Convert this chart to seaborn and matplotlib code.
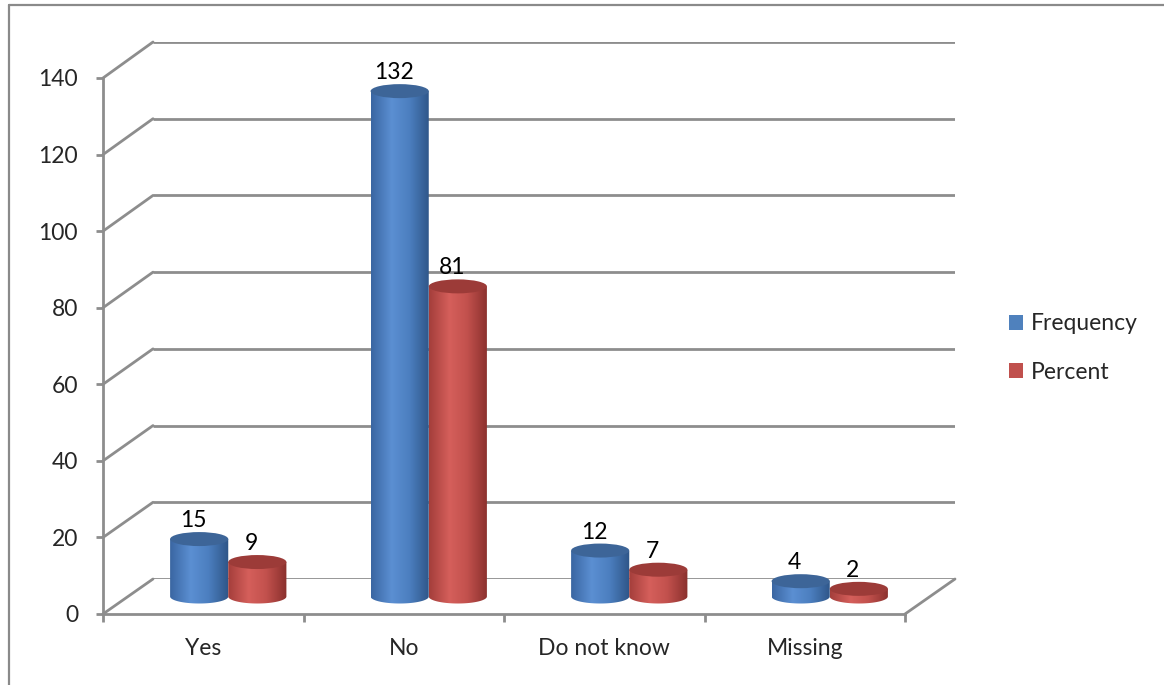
import numpy as np
import pandas as pd
import matplotlib
matplotlib.use("Agg")
import matplotlib.pyplot as plt
import matplotlib.transforms as mtransforms
from matplotlib.patches import Polygon, Ellipse, Patch, ConnectionPatch
from matplotlib.lines import Line2D
from matplotlib.colors import to_rgb
import seaborn as sns

# ---- data ----
categories = ["Yes", "No", "Do not know", "Missing"]
frequency = [15, 132, 12, 4]
percent = [9, 81, 7, 2]
series_names = ["Frequency", "Percent"]
y_ticks = [0, 20, 40, 60, 80, 100, 120, 140]

df = pd.DataFrame({
    "category": categories * 2,
    "value": frequency + percent,
    "series": [series_names[0]] * len(categories) + [series_names[1]] * len(categories),
})

# ---- style ----
sns.set_style("white")
plt.rcParams["font.family"] = ["Lato", "DejaVu Sans"]
FS = 16.5
GRID = "#8d8d8d"
LW = 2.0

base_colors = {"Frequency": "#4f81bd", "Percent": "#c0504d"}
gradients = {
    "Frequency": [(0.0, "#3a66a2"), (0.35, "#5b8fd2"), (0.65, "#4c7fc0"), (1.0, "#2e5587")],
    "Percent": [(0.0, "#a43e3b"), (0.35, "#d55f5b"), (0.65, "#c2514d"), (1.0, "#8a302d")],
}
caps = {"Frequency": "#3d6598", "Percent": "#9c3b38"}

W, H, DPI = 1164, 685, 100
PX_PER_UNIT = 536 / 140
fig = plt.figure(figsize=(W / DPI, H / DPI), dpi=DPI)
fig.patch.set_facecolor("white")


def px_axes(left, top, width, height):
    return fig.add_axes([left / W, (H - top - height) / H, width / W, height / H])


# three depth planes of the 3-D box: back wall, bar plane, front axis
Y_LOW = -6  # room below the bar plane for the rounded cylinder bottoms
ax_back = px_axes(153, 42, 802, 537)
ax = px_axes(128, 60.5, 802, (140 - Y_LOW) * PX_PER_UNIT)
ax_front = px_axes(103, 78, 802, 536)

for a in (ax_back, ax, ax_front):
    a.set_xlim(-0.5, len(categories) - 0.5)
    a.set_ylim(0, 140)
    a.patch.set_alpha(0)
    for s in a.spines.values():
        s.set_visible(False)

# back wall gridlines
for v in y_ticks:
    ax_back.plot([-0.5, len(categories) - 0.5], [v, v], color=GRID, lw=LW,
                 solid_capstyle="butt")
ax_back.set_xticks([])
ax_back.set_yticks([])

# side wall diagonals and floor edge
for v in y_ticks:
    fig.add_artist(ConnectionPatch(xyA=(-0.5, v), coordsA=ax_front.transData,
                                   xyB=(-0.5, v), coordsB=ax_back.transData,
                                   color=GRID, lw=LW))
fig.add_artist(ConnectionPatch(xyA=(len(categories) - 0.5, 0), coordsA=ax_front.transData,
                               xyB=(len(categories) - 0.5, 0), coordsB=ax_back.transData,
                               color=GRID, lw=LW))

# front axis
ax_front.spines["left"].set_visible(True)
ax_front.spines["bottom"].set_visible(True)
for s in ("left", "bottom"):
    ax_front.spines[s].set_color(GRID)
    ax_front.spines[s].set_linewidth(LW)
ax_front.set_yticks(y_ticks)
ax_front.set_yticklabels([str(t) for t in y_ticks], fontsize=FS)
ax_front.set_xticks(np.arange(len(categories) + 1) - 0.5)
ax_front.set_xticklabels([])
ax_front.set_xticks(np.arange(len(categories)), minor=True)
ax_front.set_xticklabels(categories, minor=True, fontsize=FS)
ax_front.tick_params(axis="y", which="major", direction="out", length=5, width=LW,
                     color=GRID, pad=13, left=True)
ax_front.tick_params(axis="x", which="major", direction="out", length=6, width=LW,
                     color=GRID, bottom=True)
ax_front.tick_params(axis="x", which="minor", length=0, pad=17, bottom=True)

# bars
sns.barplot(data=df, x="category", y="value", hue="series", order=categories,
            hue_order=series_names, palette=base_colors, width=0.58,
            ax=ax, legend=False)
ax.set_xlabel("")
ax.set_ylabel("")
ax.set_xticks([])
ax.set_yticks([])

ell_h = 14 / PX_PER_UNIT  # cap height in data units
label_tf = mtransforms.offset_copy(ax.transData, fig=fig, x=-0.06, y=0.12, units="inches")


def gradient_row(stops, n=128):
    pos = [p for p, _ in stops]
    cols = np.array([to_rgb(c) for _, c in stops])
    t = np.linspace(0, 1, n)
    row = np.stack([np.interp(t, pos, cols[:, k]) for k in range(3)], axis=-1)
    return row[np.newaxis, :, :]


for name, container in zip(series_names, ax.containers):
    for bar in container:
        x0 = bar.get_x()
        bw = bar.get_width()
        h = bar.get_height()
        xc = x0 + bw / 2
        bar.set_visible(False)
        # body outline: straight sides with a rounded bottom
        th = np.linspace(np.pi, 2 * np.pi, 60)
        arc = np.column_stack([xc + bw / 2 * np.cos(th), ell_h / 2 * np.sin(th)])
        verts = np.vstack([[x0, h], arc, [x0 + bw, h]])
        body = Polygon(verts, closed=True, facecolor="none", edgecolor="none",
                       transform=ax.transData)
        ax.add_patch(body)
        img = ax.imshow(gradient_row(gradients[name]), extent=(x0, x0 + bw, -ell_h, h),
                        aspect="auto", interpolation="bilinear", zorder=3)
        img.set_clip_path(body)
        ax.add_patch(Ellipse((xc, h), bw, ell_h, facecolor=caps[name],
                             edgecolor="none", zorder=4))
        ax.text(xc, h, f"{int(h)}", transform=label_tf, ha="center", va="baseline",
                fontsize=FS, color="black", zorder=5)

ax.set_xlim(-0.5, len(categories) - 0.5)
ax.set_ylim(Y_LOW, 140)

# legend
handles = [Patch(facecolor=base_colors[n], edgecolor="none") for n in series_names]
fig.legend(handles, series_names, loc="center left",
           bbox_to_anchor=(1009 / W, (H - 348) / H), frameon=False, fontsize=FS,
           handlelength=0.62, handleheight=0.62, handletextpad=0.35,
           labelspacing=1.2, borderpad=0, borderaxespad=0)

# chart border (left and top edges)
fig.add_artist(Line2D([9 / W, 9 / W], [0, (H - 5) / H], color="#8a8a8a", lw=1.6,
                      transform=fig.transFigure))
fig.add_artist(Line2D([9 / W, 1], [(H - 5) / H, (H - 5) / H], color="#8a8a8a", lw=1.6,
                      transform=fig.transFigure))

fig.savefig("out.png", dpi=DPI, facecolor="white")
